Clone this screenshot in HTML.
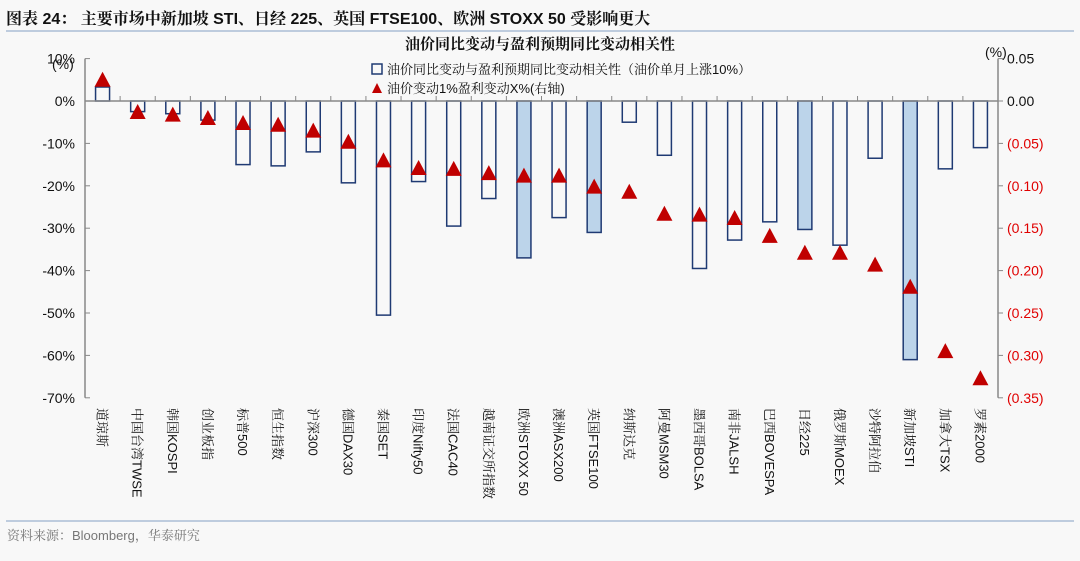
<!DOCTYPE html>
<html><head><meta charset="utf-8">
<style>
html,body{margin:0;padding:0;background:#f8f8f8;}
body{width:1080px;height:556px;position:relative;overflow:hidden;font-family:"Liberation Sans","Noto Serif CJK SC",serif;}
svg text{font-family:"Liberation Sans","Noto Serif CJK SC",serif;}
</style></head>
<body>
<svg id="chart" width="1080" height="556" xmlns="http://www.w3.org/2000/svg">
<text x="6" y="24" font-size="16" font-weight="bold" fill="#111">图表 24：  主要市场中新加坡 STI、日经 225、英国 FTSE100、欧洲 STOXX 50 受影响更大</text>
<line x1="6" y1="31" x2="1074" y2="31" stroke="#aabdd6" stroke-width="1.5"/>
<text x="540" y="49" font-size="15" font-weight="bold" text-anchor="middle" fill="#111">油价同比变动与盈利预期同比变动相关性</text>
<g>
<rect x="372" y="64" width="10" height="10" fill="none" stroke="#1f3a73" stroke-width="1.5"/>
<text x="387" y="74" font-size="13" fill="#111">油价同比变动与盈利预期同比变动相关性（油价单月上涨10%）</text>
<polygon points="377,83 372,93 382,93" fill="#c00000"/>
<text x="387" y="93" font-size="13" fill="#111">油价变动1%盈利变动X%(右轴)</text>
</g>
<text x="52" y="69" font-size="14" fill="#111">(%)</text>
<text x="985" y="57" font-size="14" fill="#111">(%)</text>
<g id="plot"></g>
<line x1="6" y1="521" x2="1074" y2="521" stroke="#aabdd6" stroke-width="1.5"/>
<text x="7" y="540" font-size="13" fill="#777">资料来源：Bloomberg，华泰研究</text>
</svg>
<script>
const categories=["道琼斯","中国台湾TWSE","韩国KOSPI","创业板指","标普500","恒生指数","沪深300","德国DAX30","泰国SET","印度Nifty50","法国CAC40","越南证交所指数","欧洲STOXX 50","澳洲ASX200","英国FTSE100","纳斯达克","阿曼MSM30","墨西哥BOLSA","南非JALSH","巴西BOVESPA","日经225","俄罗斯MOEX","沙特阿拉伯","新加坡STI","加拿大TSX","罗素2000"];
const barValues=[3.3,-2.5,-3,-4.5,-15,-15.3,-12,-19.3,-50.5,-19,-29.5,-23,-37,-27.5,-31,-5,-12.8,-39.5,-32.8,-28.5,-30.3,-34,-13.5,-61,-16,-11];
const highlighted=["欧洲STOXX 50","英国FTSE100","日经225","新加坡STI"];
const triValues=[0.025,-0.013,-0.016,-0.02,-0.026,-0.028,-0.035,-0.048,-0.07,-0.079,-0.08,-0.085,-0.088,-0.088,-0.101,-0.107,-0.133,-0.134,-0.138,-0.159,-0.179,-0.179,-0.193,-0.219,-0.295,-0.327];
const leftTicks=[10,0,-10,-20,-30,-40,-50,-60,-70];
const rightTicks=[0.05,0,-0.05,-0.10,-0.15,-0.20,-0.25,-0.30,-0.35];

const NS="http://www.w3.org/2000/svg";
const X0=85,X1=998,Y0=101,PX=4.24;
const band=(X1-X0)/categories.length;
const xC=i=>X0+band*(i+0.5);
const yL=v=>Y0-v*PX;
const yR=v=>Y0-v*10/0.05*PX;
const g=document.getElementById('plot');
function mk(t,a){const e=document.createElementNS(NS,t);for(const k in a)e.setAttribute(k,a[k]);g.appendChild(e);return e;}

let e=mk('line',{x1:X0,y1:yL(10),x2:X0,y2:yL(-70),stroke:'#888','stroke-width':1.5});


e=mk('line',{x1:X1,y1:yR(0.05),x2:X1,y2:yR(-0.35),stroke:'#888','stroke-width':1.5});



leftTicks.forEach(v=>{
 let t=mk('line',{x1:X0,y1:yL(v),x2:X0+5,y2:yL(v),stroke:'#888'});
 
 
 let l=mk('text',{x:X0-10,y:yL(v)+5,'font-size':14,'text-anchor':'end',fill:'#111'});
 l.textContent=v+'%';
 
 
});
rightTicks.forEach(v=>{
 let t=mk('line',{x1:X1,y1:yR(v),x2:X1+5,y2:yR(v),stroke:'#888'});
 
 
 let l=mk('text',{x:X1+9,y:yR(v)+5,'font-size':14,fill:v<0?'#e00000':'#111'});
 l.textContent=v<0?'('+Math.abs(v).toFixed(2)+')':v.toFixed(2);
 
 
});

categories.forEach((c,i)=>{
 const v=barValues[i],bw=14;
 const hl=highlighted.includes(c);
 let r=mk('rect',{x:xC(i)-bw/2,y:Math.min(yL(v),Y0),width:bw,height:Math.abs(yL(v)-Y0),fill:hl?'#bcd4ea':'none',stroke:'#1f3a73','stroke-width':1.5});
 
 
});

let ax=mk('line',{x1:X0,y1:Y0,x2:X1,y2:Y0,stroke:'#888','stroke-width':1.5});


for(let i=1;i<categories.length;i++){
 let t=mk('line',{x1:X0+band*i,y1:Y0,x2:X0+band*i,y2:Y0-5,stroke:'#888'});
 
 
}

categories.forEach((c,i)=>{
 const y=yR(triValues[i]),x=xC(i);
 let p=mk('polygon',{points:`${x},${y-8} ${x-8},${y+7} ${x+8},${y+7}`,fill:'#c00000'});
 
 
 let l=mk('text',{transform:`translate(${x-5},408) rotate(90)`,'font-size':13,fill:'#111'});
 l.textContent=c;
 
 
});
</script>
</body></html>
